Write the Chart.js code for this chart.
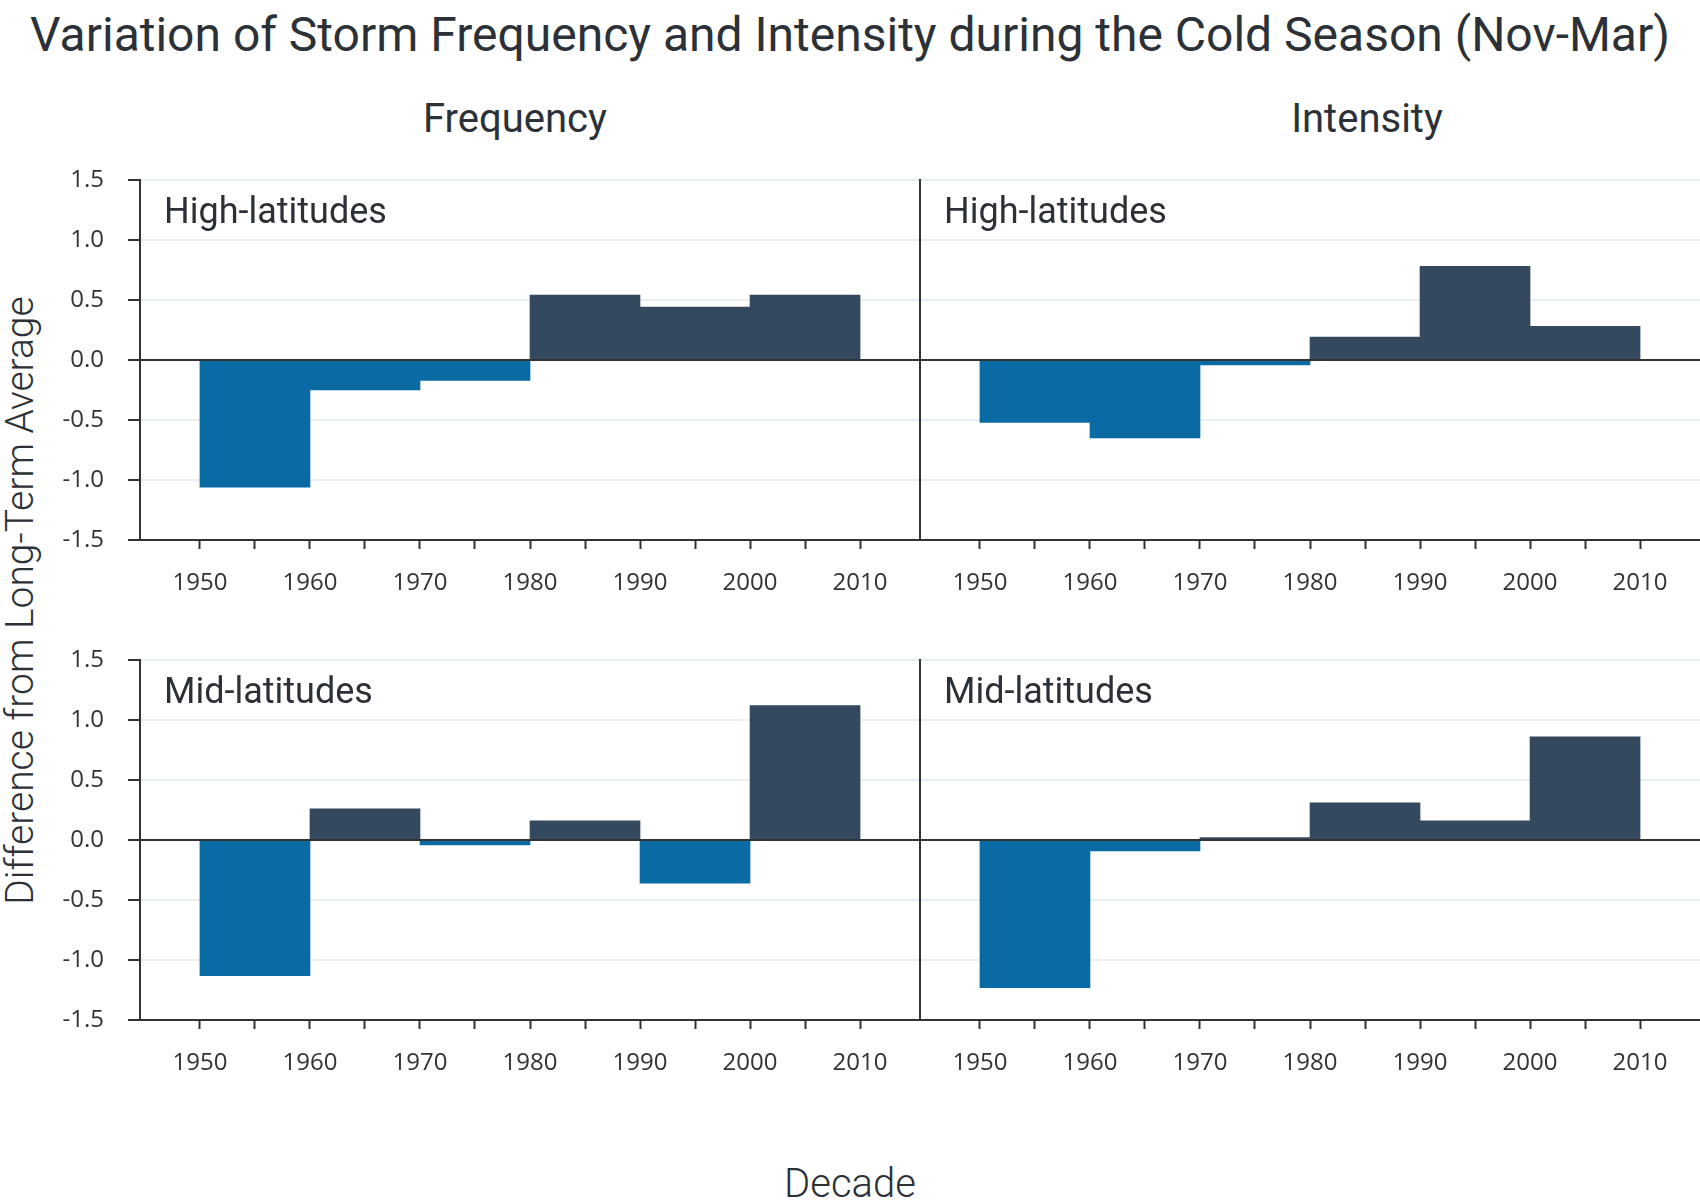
<!DOCTYPE html>
<html>
<head>
<meta charset="utf-8">
<script src="https://cdn.jsdelivr.net/npm/chart.js@4.4.1/dist/chart.umd.min.js"></script>
<style>
  body { margin: 0; background: #fff; width: 1700px; height: 1200px; position: relative; overflow: hidden;
         font-family: Roboto, sans-serif; color: #2b3137; }
  canvas { position: absolute; }
  .t { position: absolute; white-space: nowrap; line-height: 1; text-align: center; }
</style>
</head>
<body>
<div class="t" style="left:0;width:1700px;top:11px;font-size:48px">Variation of Storm Frequency and Intensity during the Cold Season (Nov-Mar)</div>
<div class="t" style="left:365px;width:300px;top:99px;font-size:40px">Frequency</div>
<div class="t" style="left:1217px;width:300px;top:99px;font-size:40px">Intensity</div>
<div class="t" style="left:700px;width:300px;top:1164px;font-size:40px;font-weight:300">Decade</div>
<div class="t" style="left:-380px;width:800px;top:581px;font-size:39px;font-weight:300;transform:rotate(-90deg)">Difference from Long-Term Average</div>

<canvas id="freqHigh" width="920" height="460" style="left:0;top:160px"></canvas>
<canvas id="intHigh" width="800" height="460" style="left:900px;top:160px"></canvas>
<canvas id="freqMid" width="920" height="460" style="left:0;top:640px"></canvas>
<canvas id="intMid" width="800" height="460" style="left:900px;top:640px"></canvas>

<script>
// decades (start year) and anomaly values
const decades   = [1950, 1960, 1970, 1980, 1990, 2000];
const freqHigh  = [-1.06, -0.25, -0.17, 0.54, 0.44, 0.54];
const intHigh   = [-0.52, -0.65, -0.04, 0.19, 0.78, 0.28];
const freqMid   = [-1.13, 0.26, -0.04, 0.16, -0.36, 1.12];
const intMid    = [-1.23, -0.09, 0.02, 0.31, 0.16, 0.86];

const xTickYears = [1950, 1955, 1960, 1965, 1970, 1975, 1980, 1985, 1990, 1995, 2000, 2005, 2010];
const yTickVals  = [-1.5, -1.25, -1.0, -0.75, -0.5, -0.25, 0, 0.25, 0.5, 0.75, 1.0, 1.25, 1.5];

const blue = '#0a6aa4';
const dark = '#34495e';
const axisColor = '#333333';
const gridColor = '#e9eff3';
const textColor = '#2b3137';

Chart.defaults.font.family = "'Open Sans', sans-serif";
Chart.defaults.font.size = 24;
Chart.defaults.color = '#333333';

// zero line on top of bars + panel label in the corner
const panelLabel = {
  id: 'panelLabel',
  afterDatasetsDraw(chart, args, opts) {
    const { ctx, chartArea, scales } = chart;
    const y0 = scales.y.getPixelForValue(0);
    ctx.save();
    ctx.strokeStyle = axisColor;
    ctx.lineWidth = 2;
    ctx.beginPath();
    ctx.moveTo(chartArea.left, y0);
    ctx.lineTo(chartArea.right, y0);
    ctx.stroke();
    ctx.font = '36px Roboto';
    ctx.fillStyle = textColor;
    ctx.textBaseline = 'alphabetic';
    ctx.fillText(opts.text, chartArea.left + 24, chartArea.top + 43);
    ctx.restore();
  }
};

const isHalf = v => Math.abs(v * 2 - Math.round(v * 2)) < 1e-9;

function makePanel(id, values, label, showY) {
  new Chart(document.getElementById(id), {
    type: 'bar',
    data: {
      datasets: [{
        data: decades.map((d, i) => ({ x: d + 5, y: values[i] })),
        backgroundColor: c => (c.raw && c.raw.y < 0) ? blue : dark,
        borderWidth: 0,
        barThickness: 'flex',
        categoryPercentage: 1,
        barPercentage: 1
      }]
    },
    options: {
      responsive: false,
      animation: false,
      devicePixelRatio: 1,
      layout: { padding: { top: 20, left: 0, right: 0, bottom: 0 } },
      plugins: {
        legend: { display: false },
        tooltip: { enabled: false },
        panelLabel: { text: label }
      },
      scales: {
        x: {
          type: 'linear',
          min: 1944.55,
          max: 2015.45,
          offset: false,
          afterBuildTicks: ax => { ax.ticks = xTickYears.map(v => ({ value: v })); },
          afterFit: ax => { ax.height = 80; ax.paddingLeft = 0; ax.paddingRight = 0; },
          ticks: {
            autoSkip: false, maxRotation: 0, padding: 20,
            callback: v => (v % 10 === 0 ? String(v) : '')
          },
          grid: { offset: false, drawOnChartArea: false, drawTicks: true, tickLength: 9, tickWidth: 2, tickColor: axisColor },
          border: { color: axisColor, width: 2 }
        },
        y: {
          min: -1.5,
          max: 1.5,
          afterBuildTicks: ax => { ax.ticks = yTickVals.map(v => ({ value: v })); },
          afterFit: ax => { ax.width = showY ? 140 : 20; ax.paddingTop = 0; ax.paddingBottom = 0; },
          ticks: {
            display: showY, padding: 24,
            callback: v => (isHalf(v) ? v.toFixed(1) : '')
          },
          grid: {
            color: c => {
              const v = c.tick ? c.tick.value : 1;
              if (v === 0) return axisColor;
              return isHalf(v) ? gridColor : 'rgba(0,0,0,0)';
            },
            lineWidth: 2,
            drawTicks: showY,
            tickLength: 12,
            tickWidth: 2,
            tickColor: axisColor
          },
          border: { color: axisColor, width: 2 }
        }
      }
    },
    plugins: [panelLabel]
  });
}

makePanel('freqHigh', freqHigh, 'High-latitudes', true);
makePanel('intHigh', intHigh, 'High-latitudes', false);
makePanel('freqMid', freqMid, 'Mid-latitudes', true);
makePanel('intMid', intMid, 'Mid-latitudes', false);
</script>
</body>
</html>
